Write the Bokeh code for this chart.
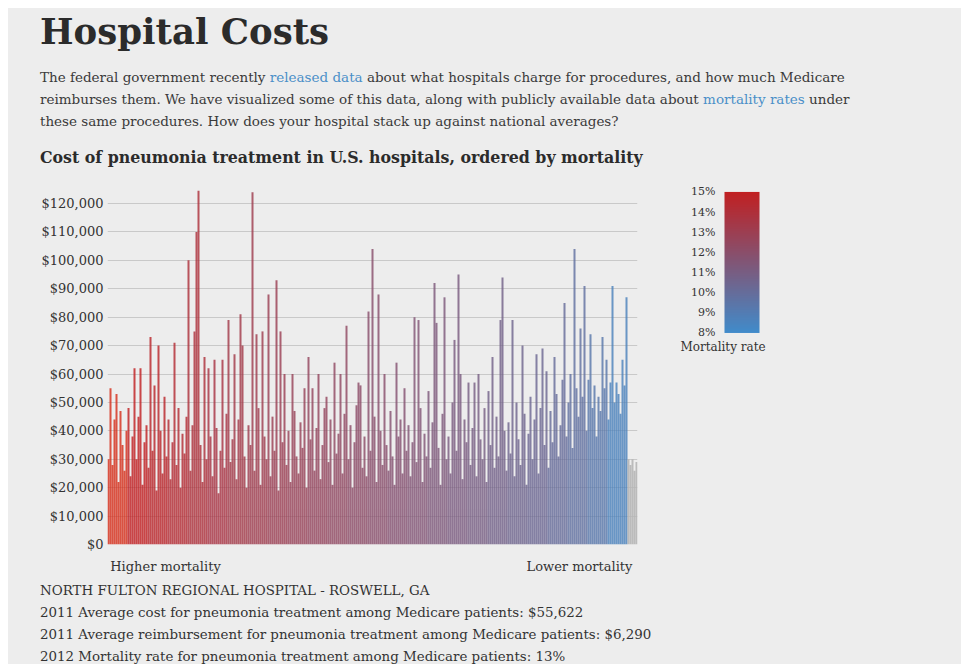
import numpy as np
from bokeh.plotting import figure
from bokeh.models import (ColumnDataSource, LinearColorMapper, FixedTicker,
                          NumeralTickFormatter, Div, Range1d)
from bokeh.layouts import column, row
from bokeh.transform import transform
from bokeh.core.properties import value
from bokeh.embed import file_html
from bokeh.resources import INLINE

BG = "#ededed"
TXT = "#333333"
LINK = "#4a8fc8"
SERIF = "DejaVu Serif"

# ---- data (cost in $ thousands), hospitals ordered by mortality, high -> low ----
cost_k = [
    30, 55, 28, 44, 53, 22, 47, 35, 26, 40,
    48, 24, 38, 62, 30, 45, 62, 21, 36, 42,
    27, 73, 33, 56, 19, 70, 40, 25, 52, 31,
    44, 23, 36, 71, 28, 48, 20, 39, 32, 45,
    100, 26, 42, 75, 110, 124.5, 35, 22, 66, 30,
    62, 38, 24, 65, 41, 18, 33, 65, 27, 46,
    79, 29, 37, 67, 23, 44, 81, 70, 31, 20,
    42, 35, 124, 26, 74, 48, 21, 75, 38, 30,
    88, 24, 45, 33, 93, 19, 75, 36, 60, 28,
    40, 22, 60, 47, 31, 25, 43, 34, 55, 20,
    66, 37, 55, 26, 41, 60, 23, 35, 48, 52,
    29, 44, 21, 64, 32, 39, 60, 25, 46, 77,
    30, 42, 20, 36, 49, 57, 56, 27, 38, 24,
    82, 33, 104, 45, 22, 88, 40, 28, 60, 35,
    26, 47, 31, 21, 64, 38, 44, 25, 55, 33,
    42, 24, 36, 80, 29, 79, 48, 22, 39, 31,
    54, 27, 43, 92, 78, 34, 21, 46, 87, 30,
    38, 25, 50, 72, 33, 95, 60, 23, 44, 36,
    57, 28, 41, 57, 24, 60, 37, 30, 48, 22,
    54, 35, 66, 27, 45, 31, 79, 94, 40, 26,
    43, 32, 79, 24, 50, 37, 28, 70, 46, 21,
    39, 52, 30, 44, 67, 25, 48, 69, 35, 61,
    27, 47, 36, 66, 53, 31, 42, 58, 85, 38,
    50, 60, 34, 104, 55, 45, 76, 52, 91, 40,
    58, 74, 48, 56, 38, 52, 47, 73, 55, 65,
    44, 57, 91, 50, 57, 53, 46, 65, 56, 87,
]
# mortality rate (%) for each consecutive group of 10 hospitals
mortality_by_group = [16.0, 15.0, 14.6, 14.2, 13.9, 13.6, 13.3, 13.1, 12.9, 12.7,
                      12.5, 12.3, 12.1, 11.9, 11.7, 11.5, 11.3, 11.1, 10.9, 10.7,
                      10.5, 10.3, 10.0, 9.7, 9.3, 8.6]
# hospitals without mortality data (cost in $ thousands)
no_data_cost_k = [30, 28, 30, 26, 29]

y_ticks = [0, 10000, 20000, 30000, 40000, 50000, 60000, 70000, 80000,
           90000, 100000, 110000, 120000]
legend_ticks = [8, 9, 10, 11, 12, 13, 14, 15]
legend_labels = ["8%", "9%", "10%", "11%", "12%", "13%", "14%", "15%"]
end_labels = ["Higher mortality", "Lower mortality"]

# ---- colour mapping ----
blue = (66, 139, 202)
red = (193, 32, 34)
palette = ["#%02x%02x%02x" % tuple(int(round(b + (r - b) * k / 255)) for b, r in zip(blue, red))
           for k in range(256)]
mapper = LinearColorMapper(palette=palette, low=8, high=15,
                           high_color="#d6301c", low_color=palette[0])

n = len(cost_k)
src = ColumnDataSource(dict(
    x=[i + 0.5 for i in range(n)],
    top=[c * 1000 for c in cost_k],
    mort=[mortality_by_group[i // 10] for i in range(n)],
))
src_nd = ColumnDataSource(dict(
    x=[n + i + 0.5 for i in range(len(no_data_cost_k))],
    top=[c * 1000 for c in no_data_cost_k],
))
total = n + len(no_data_cost_k)

BORDER_TOP, BORDER_BOTTOM, FIG_H = 14, 34, 406

# ---- main chart ----
p = figure(width=660, height=FIG_H, x_range=Range1d(0, total), y_range=Range1d(0, 126000),
           output_backend="svg", toolbar_location=None,
           min_border_left=99, min_border_right=31,
           min_border_top=BORDER_TOP, min_border_bottom=BORDER_BOTTOM,
           background_fill_color=BG, border_fill_color=BG, outline_line_color=None)
p.vbar(x="x", top="top", width=1, bottom=0, source=src,
       fill_color=transform("mort", mapper), line_color=None, fill_alpha=0.82)
p.vbar(x="x", top="top", width=1, bottom=0, source=src_nd,
       fill_color="#b5b5b5", line_color=None, fill_alpha=0.9)

p.xgrid.visible = False
p.xaxis.ticker = FixedTicker(ticks=[29, 236])
p.xaxis.major_label_overrides = {29: end_labels[0], 236: end_labels[1]}
p.xaxis.axis_line_color = None
p.xaxis.major_tick_line_color = None
p.xaxis.minor_tick_line_color = None
p.xaxis.major_tick_out = 0
p.xaxis.major_label_standoff = 14
p.xaxis.major_label_text_font = SERIF
p.xaxis.major_label_text_font_size = "13px"
p.xaxis.major_label_text_color = TXT

p.yaxis.ticker = FixedTicker(ticks=y_ticks)
p.yaxis.formatter = NumeralTickFormatter(format="$0,0")
p.yaxis.axis_line_color = None
p.yaxis.major_tick_line_color = None
p.yaxis.minor_tick_line_color = None
p.yaxis.major_tick_out = 0
p.yaxis.major_label_standoff = 4
p.yaxis.major_label_text_font = SERIF
p.yaxis.major_label_text_font_size = "13px"
p.yaxis.major_label_text_color = TXT
p.ygrid.ticker = FixedTicker(ticks=y_ticks)
p.ygrid.grid_line_color = "#c9c9c9"
p.ygrid.grid_line_width = 1

# ---- legend (colour ramp), same borders as the main chart ----
lg = figure(width=110, height=FIG_H, x_range=Range1d(0, 110), y_range=Range1d(-2.5, 15.27),
            output_backend="svg", toolbar_location=None,
            min_border_left=0, min_border_right=0,
            min_border_top=BORDER_TOP, min_border_bottom=BORDER_BOTTOM,
            background_fill_color=BG, border_fill_color=BG, outline_line_color=None)
ramp = np.linspace(8, 15, 200).reshape(-1, 1)
lg.image(image=[ramp], x=56, y=8, dw=35, dh=7, color_mapper=mapper)
lg.text(x=[47] * len(legend_ticks), y=legend_ticks, text=legend_labels,
        text_align="right", text_baseline="middle", text_font=value(SERIF),
        text_font_size="11px", text_color=TXT)
lg.text(x=[54.5], y=[7.28], text=["Mortality rate"], text_align="center",
        text_baseline="middle", text_font=value(SERIF), text_font_size="12px",
        text_color=TXT)
lg.axis.visible = False
lg.grid.visible = False

# ---- text blocks ----
header_html = f"""
<div style="font-family:'{SERIF}';color:{TXT};padding-left:32px;">
  <div style="font-size:35.5px;font-weight:bold;line-height:44px;padding-top:2px;color:#2b2b2b;white-space:nowrap;">Hospital Costs</div>
  <div style="font-size:13.5px;line-height:22px;margin-top:12px;white-space:nowrap;color:#3a3a3a;">
    The federal government recently <span style="color:{LINK}">released data</span> about what hospitals charge for procedures, and how much Medicare<br>
    reimburses them. We have visualized some of this data, along with publicly available data about <span style="color:{LINK}">mortality rates</span> under<br>
    these same procedures. How does your hospital stack up against national averages?
  </div>
  <div style="font-size:15.8px;font-weight:bold;line-height:22px;margin-top:15px;white-space:nowrap;color:#2b2b2b;">Cost of pneumonia treatment in U.S. hospitals, ordered by mortality</div>
</div>
"""
footer_html = f"""
<div style="font-family:'{SERIF}';color:{TXT};padding-left:32px;padding-top:2px;font-size:13.4px;line-height:22px;white-space:nowrap;">
NORTH FULTON REGIONAL HOSPITAL - ROSWELL, GA<br>
2011 Average cost for pneumonia treatment among Medicare patients: $55,622<br>
2011 Average reimbursement for pneumonia treatment among Medicare patients: $6,290<br>
2012 Mortality rate for pneumonia treatment among Medicare patients: 13%
</div>
"""
header = Div(text=header_html, width=953, height=164, margin=0,
             styles={"background-color": BG, "overflow": "hidden"})
footer = Div(text=footer_html, width=953, height=86, margin=0,
             styles={"background-color": BG, "overflow": "hidden"})

layout = column(header, row(p, lg, spacing=0, styles={"background-color": BG}), footer,
                spacing=0, margin=(8, 8, 8, 8), styles={"background-color": BG})

open("out.html", "w").write(file_html(layout, INLINE))
